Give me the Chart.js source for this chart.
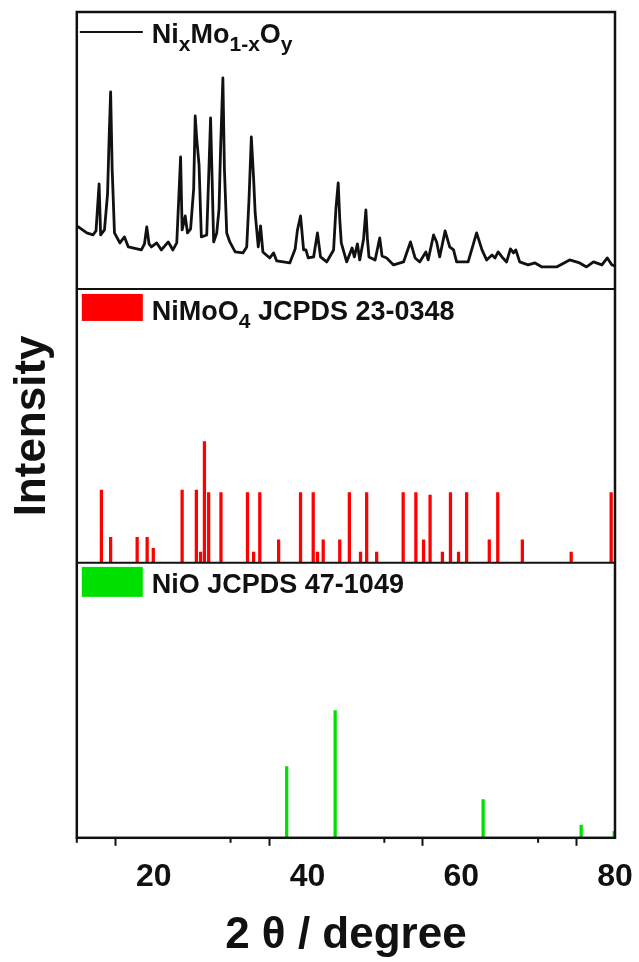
<!DOCTYPE html>
<html>
<head>
<meta charset="utf-8">
<script src="https://cdn.jsdelivr.net/npm/chart.js@4.4.0/dist/chart.umd.min.js"></script>
<style>
  html, body { margin: 0; padding: 0; background: #fff; }
  #wrap { width: 639px; height: 962px; position: relative; }
</style>
</head>
<body>
<div id="wrap"><canvas id="xrd" width="639" height="962"></canvas></div>
<script>
// measured pattern, intensity in a.u.
var xrdAngle = [
  10.0, 10.2, 11.3, 12.1, 12.5, 12.9, 13.1, 13.6, 14.0, 14.2,
  14.4, 14.6, 14.9, 15.6, 16.2, 16.7, 18.4, 18.8, 19.1, 19.4,
  19.7, 20.4, 21.0, 21.9, 22.5, 23.0, 23.5, 23.7, 24.1, 24.4,
  24.8, 25.2, 25.4, 25.6, 25.9, 26.2, 26.9, 27.1, 27.4, 27.6,
  27.8, 28.2, 28.5, 28.7, 29.0, 29.2, 29.5, 29.9, 30.6, 31.6,
  32.1, 32.4, 32.7, 33.0, 33.2, 33.6, 33.9, 34.2, 35.1, 35.6,
  36.0, 37.7, 38.4, 38.7, 39.1, 39.5, 39.8, 40.1, 40.8, 41.3,
  41.7, 42.5, 43.4, 43.7, 44.0, 44.2, 44.4, 45.1, 45.8, 46.1,
  46.5, 46.8, 47.3, 47.6, 47.8, 48.0, 48.8, 49.4, 49.7, 50.3,
  51.2, 52.5, 52.9, 53.4, 54.0, 54.6, 55.4, 55.7, 56.4, 56.8,
  57.2, 57.9, 58.5, 59.0, 59.4, 60.9, 62.0, 62.7, 63.3, 64.0,
  64.4, 64.8, 65.3, 65.9, 66.4, 66.8, 67.1, 67.6, 68.7, 69.6,
  70.5, 72.4, 74.1, 75.4, 76.3, 77.2, 78.3, 79.0, 79.6, 80.0
];
var xrdIntensity = [
  63, 62, 56, 54, 58, 105, 54, 59, 95, 150,
  197, 120, 56, 46, 52, 42, 39, 45, 62, 45,
  42, 46, 39, 47, 39, 46, 132, 59, 73, 56,
  60, 100, 173, 150, 124, 52, 54, 100, 171, 110,
  47, 56, 80, 140, 211, 120, 56, 47, 37, 36,
  42, 90, 152, 110, 76, 42, 63, 37, 31, 36,
  28, 26, 40, 59, 73, 39, 39, 31, 32, 56,
  32, 27, 39, 80, 106, 70, 46, 27, 41, 32,
  45, 29, 50, 79, 50, 32, 29, 51, 33, 31,
  24, 27, 36, 47, 31, 27, 37, 29, 54, 47,
  32, 58, 42, 39, 27, 27, 56, 39, 29, 34,
  31, 37, 32, 27, 40, 36, 39, 27, 24, 26,
  22, 22, 29, 26, 22, 27, 24, 31, 24, 23
];

// NiMoO4 JCPDS 23-0348, relative intensity
var nimoo4Angle = [
  13.2, 14.4, 17.85, 19.15, 19.95, 23.7, 25.55, 26.1, 26.6, 27.15,
  28.75, 32.2, 33.0, 33.8, 36.25, 39.1, 40.75, 41.3, 42.05, 44.2,
  45.45, 46.9, 47.7, 49.0, 52.45, 54.1, 55.1, 55.95, 57.55, 58.6,
  59.65, 60.7, 63.65, 64.75, 67.95, 74.3, 79.5
];
var nimoo4Intensity = [
  60, 21, 21, 21, 12, 60, 60, 9, 100, 58,
  58, 58, 9, 58, 19, 58, 58, 9, 19, 19,
  58, 9, 58, 9, 58, 58, 19, 56, 9, 58,
  9, 58, 19, 58, 19, 9, 58
];

// NiO JCPDS 47-1049, relative intensity
var nioAngle = [37.3, 43.6, 62.85, 75.6, 79.9];
var nioIntensity = [56, 100, 30, 10, 5];

var xMajorTicks = [20, 40, 60, 80];
var xMinorTicks = [10, 30, 50, 70];

var FONT = 'Liberation Sans';
var INK = '#111111';
var RED = '#ff0000';
var GREEN = '#00e000';

function toPoints(xs, ys) {
  return xs.map(function (x, i) { return { x: x, y: ys[i] }; });
}

function isMajor(v) {
  return xMajorTicks.indexOf(v) >= 0;
}

function drawRich(ctx, parts, x, y) {
  parts.forEach(function (p) {
    var sub = p[1];
    ctx.font = 'bold ' + (sub ? 21 : 27) + 'px "' + FONT + '"';
    ctx.fillText(p[0], x, sub ? y + 8 : y);
    x += ctx.measureText(p[0]).width;
  });
}

var panelPlugin = {
  id: 'panels',
  afterDatasetsDraw: function (chart) {
    var ctx = chart.ctx,
      area = chart.chartArea,
      s = chart.scales,
      left = area.left;

    ctx.save();
    ctx.strokeStyle = INK;

    // panel dividers
    ctx.lineWidth = 2;
    [s.yTop.bottom, s.yMid.bottom].forEach(function (y) {
      ctx.beginPath();
      ctx.moveTo(area.left, y);
      ctx.lineTo(area.right, y);
      ctx.stroke();
    });

    // frame
    ctx.lineWidth = 2.5;
    ctx.strokeRect(area.left, area.top, area.right - area.left, area.bottom - area.top);

    // minor ticks
    ctx.lineWidth = 2;
    xMinorTicks.forEach(function (v) {
      var px = s.x.getPixelForValue(v);
      ctx.beginPath();
      ctx.moveTo(px, area.bottom);
      ctx.lineTo(px, area.bottom + 5);
      ctx.stroke();
    });

    // legends
    ctx.fillStyle = INK;
    ctx.textBaseline = 'alphabetic';
    ctx.lineWidth = 2;
    ctx.beginPath();
    ctx.moveTo(left + 3, s.yTop.top + 20);
    ctx.lineTo(left + 66, s.yTop.top + 20);
    ctx.stroke();
    drawRich(ctx, [['Ni', 0], ['x', 1], ['Mo', 0], ['1-x', 1], ['O', 0], ['y', 1]], left + 75, s.yTop.top + 31);

    ctx.fillStyle = RED;
    ctx.fillRect(left + 5, s.yMid.top + 5, 61, 27);
    ctx.fillStyle = INK;
    drawRich(ctx, [['NiMoO', 0], ['4', 1], [' JCPDS 23-0348', 0]], left + 75, s.yMid.top + 31);

    ctx.fillStyle = GREEN;
    ctx.fillRect(left + 5, s.yBot.top + 4, 61, 30);
    ctx.fillStyle = INK;
    drawRich(ctx, [['NiO JCPDS 47-1049', 0]], left + 75, s.yBot.top + 30);

    ctx.restore();
  }
};

Chart.defaults.font.family = FONT;
Chart.defaults.color = INK;

var ctx = document.getElementById('xrd').getContext('2d');
var chart = new Chart(ctx, {
  type: 'line',
  data: {
    datasets: [
      {
        label: 'NixMo1-xOy',
        data: toPoints(xrdAngle, xrdIntensity),
        yAxisID: 'yTop',
        borderColor: INK,
        borderWidth: 2.8,
        borderJoinStyle: 'round',
        pointRadius: 0,
        tension: 0
      },
      {
        type: 'bar',
        label: 'NiMoO4 JCPDS 23-0348',
        data: toPoints(nimoo4Angle, nimoo4Intensity),
        yAxisID: 'yMid',
        backgroundColor: RED,
        barThickness: 2.6,
        grouped: false
      },
      {
        type: 'bar',
        label: 'NiO JCPDS 47-1049',
        data: toPoints(nioAngle, nioIntensity),
        yAxisID: 'yBot',
        backgroundColor: GREEN,
        barThickness: 2.6,
        grouped: false
      }
    ]
  },
  options: {
    responsive: false,
    animation: false,
    events: [],
    layout: { padding: { top: 12, right: 24, left: 0, bottom: 0 } },
    plugins: {
      legend: { display: false },
      tooltip: { enabled: false }
    },
    scales: {
      x: {
        type: 'linear',
        min: 10,
        max: 80,
        offset: false,
        border: { display: false },
        afterFit: function (scale) {
          // let the "80" label hang into the right margin
          scale.paddingRight = 0;
        },
        grid: {
          drawOnChartArea: false,
          drawTicks: true,
          tickLength: 8,
          tickWidth: 2,
          tickColor: function (c) {
            return c.tick && isMajor(c.tick.value) ? INK : 'rgba(0,0,0,0)';
          }
        },
        ticks: {
          stepSize: 10,
          autoSkip: false,
          maxRotation: 0,
          padding: 12,
          font: { size: 32, weight: 'bold' },
          callback: function (v) { return isMajor(v) ? String(v) : ''; }
        },
        title: {
          display: true,
          text: '2 θ / degree',
          font: { size: 44, weight: 'bold' },
          padding: { top: 1, bottom: 0 }
        }
      },
      yBot: {
        type: 'linear',
        position: 'left',
        stack: 'panels',
        stackWeight: 275,
        min: 0,
        max: 216,
        display: false
      },
      yMid: {
        type: 'linear',
        position: 'left',
        stack: 'panels',
        stackWeight: 274,
        min: 0,
        max: 226,
        grid: { display: false, drawTicks: false },
        border: { display: false },
        ticks: { display: false },
        title: {
          display: true,
          text: 'Intensity',
          font: { size: 44, weight: 'bold' },
          padding: { top: 6, bottom: 18 }
        }
      },
      yTop: {
        type: 'linear',
        position: 'left',
        stack: 'panels',
        stackWeight: 277,
        min: 0,
        max: 277,
        display: false
      }
    }
  },
  plugins: [panelPlugin]
});
</script>
</body>
</html>
